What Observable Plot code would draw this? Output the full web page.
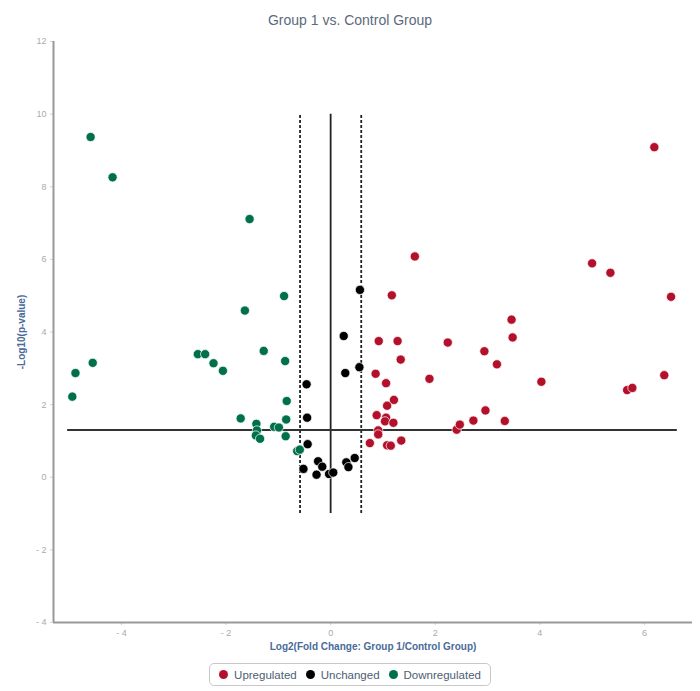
<!DOCTYPE html>
<html><head><meta charset="utf-8">
<script src="https://cdn.jsdelivr.net/npm/d3@7"></script>
<script src="https://cdn.jsdelivr.net/npm/@observablehq/plot@0.6"></script>
<style>
body{margin:0;background:#fff;font-family:"Liberation Sans",Arial,sans-serif;}
#title{padding-top:12px;height:20px;font-size:14px;line-height:16px;text-align:center;color:#5b6a7d;}
#chart svg{display:block;}
[aria-label="y-axis label"] text,[aria-label="x-axis label"] text{fill:#4a6b9a;font-weight:bold;font-size:10px;}
#legendWrap{text-align:center;margin-top:6px;}
#legend{display:inline-flex;align-items:center;gap:9px;height:21px;padding:0 9px;border:1px solid #c8c8c8;border-radius:5px;font-size:11.5px;color:#4d5d75;box-sizing:content-box;}
#legend .it{display:inline-flex;align-items:center;gap:6px;}
#legend .sw{width:9px;height:9px;border-radius:50%;display:inline-block;}
</style></head><body>
<div id="title">Group 1 vs. Control Group</div>
<div id="chart"></div>
<div id="legendWrap"><div id="legend"></div></div>
<script>
// Upregulated
const upX=[1.61,1.17,0.92,1.28,2.24,1.34,0.86,1.06,1.89,1.21,1.08,0.88,1.06,1.04,1.20,0.91,0.91,0.75,1.08,1.15,1.35,2.41,2.47,2.73,2.96,3.33,2.94,3.18,3.46,3.48,4.03,5.00,5.35,6.19,6.51,6.38,5.67,5.77];
const upY=[6.08,5.01,3.75,3.75,3.71,3.24,2.85,2.59,2.71,2.13,1.97,1.71,1.64,1.54,1.50,1.29,1.18,0.94,0.88,0.87,1.01,1.31,1.45,1.56,1.84,1.55,3.47,3.11,4.34,3.85,2.63,5.89,5.63,9.09,4.97,2.81,2.40,2.46];
// Unchanged
const unX=[0.56,0.25,0.28,0.55,-0.46,-0.45,-0.44,-0.52,-0.24,-0.16,-0.27,-0.03,0.05,0.30,0.34,0.46];
const unY=[5.16,3.89,2.87,3.03,2.56,1.64,0.91,0.23,0.44,0.29,0.07,0.09,0.13,0.41,0.28,0.53];
// Downregulated
const downX=[-4.59,-4.17,-1.55,-0.89,-1.64,-4.94,-4.88,-4.55,-2.54,-2.40,-2.24,-2.06,-1.28,-0.87,-0.84,-1.72,-0.85,-1.42,-1.41,-1.43,-1.35,-1.08,-0.99,-0.86,-0.64,-0.59];
const downY=[9.37,8.26,7.11,4.99,4.59,2.22,2.87,3.15,3.39,3.39,3.14,2.93,3.48,3.20,2.10,1.62,1.59,1.47,1.29,1.15,1.06,1.39,1.37,1.13,0.72,0.76];

const categories=["Upregulated","Unchanged","Downregulated"];
const colors=["#b3112b","#000000","#00704a"];
const xTicks=[-4,-2,0,2,4,6];
const yTicks=[-4,-2,0,2,4,6,8,10,12];
const xDomain=[-5.3,6.92];
const yDomain=[-4,12];
const foldCut=[-0.585,0.585];
const pCut=1.301;
const vLineRange=[-1,10];
const hLineRange=[-5.03,6.63];

const rows=[];
upX.forEach((x,i)=>rows.push({x,y:upY[i],c:"Upregulated"}));
unX.forEach((x,i)=>rows.push({x,y:unY[i],c:"Unchanged"}));
downX.forEach((x,i)=>rows.push({x,y:downY[i],c:"Downregulated"}));

const chart=Plot.plot({
  width:700,height:625,
  marginTop:9,marginBottom:35,marginLeft:53,marginRight:8,
  style:{background:"#fff",fontFamily:"Liberation Sans, Arial, sans-serif"},
  x:{domain:xDomain},
  y:{domain:yDomain},
  color:{domain:categories,range:colors},
  marks:[
    Plot.axisX({ticks:xTicks,tickSize:3,tickPadding:4,fontSize:9,color:"#aaa",strokeOpacity:0.5,tickFormat:d=>String(d).replace("-","- "),label:"Log2(Fold Change: Group 1/Control Group)",labelAnchor:"center",labelArrow:"none",labelOffset:27}),
    Plot.axisY({ticks:yTicks,tickSize:3,tickPadding:4,fontSize:9,color:"#aaa",strokeOpacity:0.5,tickFormat:d=>String(d).replace("-","- "),label:"-Log10(p-value)",labelAnchor:"center",labelArrow:"none",labelOffset:36}),
    Plot.ruleX([xDomain[0]],{stroke:"#999",strokeWidth:2}),
    Plot.ruleY([yDomain[0]],{stroke:"#999",strokeWidth:2}),
    Plot.ruleX([0],{y1:vLineRange[0],y2:vLineRange[1],stroke:"#222",strokeWidth:1.8}),
    Plot.ruleX(foldCut,{y1:vLineRange[0],y2:vLineRange[1],stroke:"#222",strokeWidth:1.8,strokeDasharray:"3,2"}),
    Plot.ruleY([pCut],{x1:hLineRange[0],x2:hLineRange[1],stroke:"#333",strokeWidth:1.8}),
    Plot.dot(rows,{x:"x",y:"y",fill:"c",r:4.6,stroke:"#fff",strokeWidth:0.7})
  ]
});
document.getElementById("chart").appendChild(chart);

const lg=document.getElementById("legend");
categories.forEach((c,i)=>{
  const s=document.createElement("span");s.className="it";
  s.innerHTML=`<span class="sw" style="background:${colors[i]}"></span>${c}`;
  lg.appendChild(s);
});
</script>
</body></html>
